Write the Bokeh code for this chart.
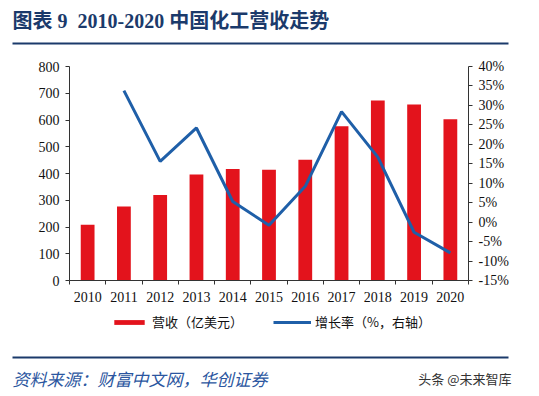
from bokeh.plotting import figure
from bokeh.layouts import column
from bokeh.models import (Range1d, LinearAxis, FixedTicker, PrintfTickFormatter,
                          Legend, LegendItem)
from bokeh.core.properties import value
from bokeh.embed import file_html
from bokeh.resources import INLINE

# ---- data ----
years = [2010, 2011, 2012, 2013, 2014, 2015, 2016, 2017, 2018, 2019, 2020]
revenue = [208, 277, 320, 396, 417, 414, 451, 577, 673, 658, 603]  # 亿美元
growth_years = [2011, 2012, 2013, 2014, 2015, 2016, 2017, 2018, 2019, 2020]
growth = [33.8, 15.6, 24.2, 5.3, -0.8, 9.2, 28.4, 16.7, -2.6, -7.9]  # %
left_ticks = [0, 100, 200, 300, 400, 500, 600, 700, 800]
right_ticks = [-15, -10, -5, 0, 5, 10, 15, 20, 25, 30, 35, 40]

title_text = "图表\u00a09\u00a0\u00a02010-2020\u00a0中国化工营收走势"
bar_label = "营收（亿美元）"
line_label = "增长率（%，右轴）"
source_text = "资料来源：财富中文网，华创证券"
watermark = "头条 @未来智库"

W = 539
NAVY = "#1B3A6B"
RED = "#E3131C"
BLUE = "#1F5FA8"
SERIF = value("Liberation Serif, Noto Sans CJK SC")
CJK = value("Noto Sans CJK SC")


def blank(h):
    f = figure(width=W, height=h, x_range=Range1d(0, W), y_range=Range1d(h, 0),
               output_backend="svg", toolbar_location=None, x_axis_type=None,
               y_axis_type=None, min_border=0, outline_line_color=None)
    f.xgrid.visible = False
    f.ygrid.visible = False
    return f


# ---- header ----
hdr = blank(50)
hdr.text(x=[12], y=[20], text=[title_text], text_baseline="middle",
         text_font=SERIF, text_font_style="bold", text_font_size="20px",
         text_color=NAVY)
hdr.segment(x0=[12], y0=[43], x1=[508], y1=[43], line_width=2, line_color=NAVY)

# ---- main chart ----
p = figure(width=W, height=255, x_range=Range1d(2009.5, 2020.5),
           y_range=Range1d(0, 800), output_backend="svg", toolbar_location=None,
           min_border_left=69, min_border_right=71, min_border_top=16,
           min_border_bottom=25, outline_line_color=None)
p.xgrid.visible = False
p.ygrid.visible = False
p.extra_y_ranges = {"pct": Range1d(-15, 40)}

bars = p.vbar(x=years, top=revenue, width=0.38, fill_color=RED, line_color=None)
ln = p.line(x=growth_years, y=growth, y_range_name="pct", line_width=3,
            line_color=BLUE)

ra = LinearAxis(y_range_name="pct", ticker=FixedTicker(ticks=right_ticks),
                formatter=PrintfTickFormatter(format="%d%%"))
p.add_layout(ra, "right")

p.yaxis[0].ticker = FixedTicker(ticks=left_ticks)
p.xaxis.ticker = FixedTicker(ticks=years,
                             minor_ticks=[y - 0.5 for y in years] + [years[-1] + 0.5])
p.xaxis.major_label_overrides = {y: str(y) for y in years}
p.xaxis.major_tick_out = 0
p.xaxis.major_tick_in = 0
p.xaxis.minor_tick_out = 4
p.xaxis.minor_tick_in = 0
p.xaxis.major_label_standoff = 7

for ax in [p.yaxis[0], ra]:
    ax.major_tick_out = 4
    ax.major_tick_in = 0
    ax.major_label_standoff = 6

for ax in p.axis:
    ax.axis_line_color = "#333333"
    ax.major_tick_line_color = "#333333"
    ax.major_label_text_font = "Liberation Serif"
    ax.major_label_text_font_size = "14px"
    ax.major_label_text_color = "#111111"
p.xaxis.minor_tick_line_color = "#333333"
p.yaxis[0].minor_tick_line_color = None
ra.minor_tick_line_color = None

# ---- legend strip ----
leg = blank(37)
nan = float("nan")
lb = leg.vbar(x=[nan], top=[nan], width=1, fill_color=RED, line_color=None)
ll = leg.line(x=[nan], y=[nan], line_width=3, line_color=BLUE)
legend = Legend(items=[LegendItem(label=bar_label, renderers=[lb]),
                       LegendItem(label=line_label, renderers=[ll])],
                orientation="horizontal", location=(110, 11),
                glyph_width=38, glyph_height=6, label_height=16,
                label_standoff=4, spacing=30, padding=0, margin=0,
                border_line_color=None, background_fill_alpha=0,
                label_text_font="Noto Sans CJK SC", label_text_font_size="13px",
                label_text_color="#111111")
leg.add_layout(legend, "center")

# ---- footer ----
ftr = blank(52)
ftr.segment(x0=[12], y0=[15], x1=[508], y1=[15], line_width=2, line_color=NAVY)
ftr.text(x=[12], y=[36], text=[source_text], text_baseline="middle",
         text_font=CJK, text_font_style="italic", text_font_size="17px",
         text_color="#2B56A0")
ftr.text(x=[511], y=[36], text=[watermark], text_baseline="middle",
         text_align="right", text_font=CJK, text_font_size="13px",
         text_color="#333333")

layout = column(column(hdr), column(p), column(leg), column(ftr), spacing=0)
open("out.html", "w").write(file_html(layout, INLINE))
